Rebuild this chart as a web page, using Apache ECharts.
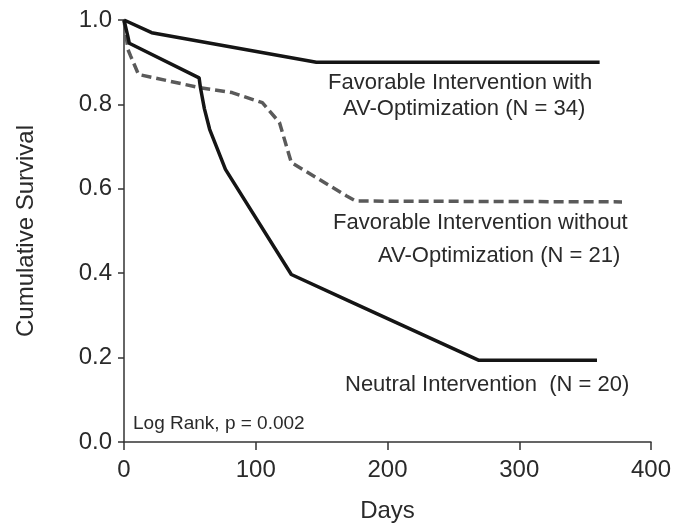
<!DOCTYPE html>
<html>
<head>
<meta charset="utf-8">
<script src="https://cdn.jsdelivr.net/npm/echarts@6/dist/echarts.min.js"></script>
<style>html,body{margin:0;padding:0;background:#fff}#c{width:675px;height:528px}</style>
</head>
<body>
<div id="c"></div>
<script>
// Data (days, cumulative survival)
var withAVDays = [0, 21, 146, 361];
var withAVSurv = [1.0, 0.970, 0.900, 0.900];

var withoutAVDays = [0, 3, 5, 11, 57, 82, 105, 118, 127, 169, 176, 378];
var withoutAVSurv = [1.0, 0.93, 0.915, 0.871, 0.840, 0.828, 0.804, 0.757, 0.662, 0.583, 0.571, 0.569];

var neutralDays = [0, 3, 4, 57, 58, 61, 65, 77, 127, 171, 269, 359];
var neutralSurv = [1.0, 0.96, 0.945, 0.863, 0.84, 0.79, 0.741, 0.646, 0.397, 0.334, 0.194, 0.194];

var xTicks = [0, 100, 200, 300, 400];
var yTicks = [0.0, 0.2, 0.4, 0.6, 0.8, 1.0];

var labelWith = ['Favorable Intervention with', 'AV-Optimization (N = 34)'];
var labelWithout = ['Favorable Intervention without', 'AV-Optimization (N = 21)'];
var labelNeutral = 'Neutral Intervention  (N = 20)';
var labelLogRank = 'Log Rank, p = 0.002';

function pairs(xs, ys) { return xs.map(function (x, i) { return [x, ys[i]]; }); }

var FONT = 'Liberation Sans, Arial, sans-serif';
var TXT = '#2a2a2a';
var chart = echarts.init(document.getElementById('c'), null, {renderer: 'canvas'});

var axisLine = {show: true, lineStyle: {color: '#333', width: 1.5}};
chart.setOption({
  animation: false,
  backgroundColor: '#fff',
  grid: {left: 124, right: 24, top: 20, bottom: 85, containLabel: false},
  xAxis: {
    type: 'value', min: xTicks[0], max: xTicks[xTicks.length - 1], interval: 100,
    axisLine: axisLine,
    axisTick: {show: true, length: 8, lineStyle: {color: '#333', width: 1.5}},
    axisLabel: {fontFamily: FONT, fontSize: 24, color: TXT, margin: 16},
    splitLine: {show: false},
    name: 'Days', nameLocation: 'middle', nameGap: 57,
    nameTextStyle: {fontFamily: FONT, fontSize: 24, color: TXT}
  },
  yAxis: {
    type: 'value', min: yTicks[0], max: yTicks[yTicks.length - 1], interval: 0.2,
    axisLine: axisLine,
    axisTick: {show: true, length: 6, lineStyle: {color: '#333', width: 1.5}},
    axisLabel: {fontFamily: FONT, fontSize: 24, color: TXT, margin: 12,
      formatter: function (v) { return v.toFixed(1); }},
    splitLine: {show: false},
    name: 'Cumulative Survival', nameLocation: 'middle', nameGap: 86, nameMoveOverlap: false,
    nameTextStyle: {fontFamily: FONT, fontSize: 24, color: TXT}
  },
  series: [
    {type: 'line', data: pairs(withAVDays, withAVSurv), showSymbol: false, symbol: 'none',
     lineStyle: {color: '#151515', width: 3.5}, z: 3},
    {type: 'line', data: pairs(withoutAVDays, withoutAVSurv), showSymbol: false, symbol: 'none',
     lineStyle: {color: '#5a5a5a', width: 3.5, type: [10, 5]}, z: 2},
    {type: 'line', data: pairs(neutralDays, neutralSurv), showSymbol: false, symbol: 'none',
     lineStyle: {color: '#151515', width: 3.5}, z: 3}
  ],
  graphic: [
    {type: 'text', left: 328, top: 72, style: {text: labelWith[0], font: '22px ' + FONT, fill: TXT}},
    {type: 'text', left: 343, top: 98, style: {text: labelWith[1], font: '22px ' + FONT, fill: TXT}},
    {type: 'text', left: 333, top: 212, style: {text: labelWithout[0], font: '22px ' + FONT, fill: TXT}},
    {type: 'text', left: 378, top: 245, style: {text: labelWithout[1], font: '22px ' + FONT, fill: TXT}},
    {type: 'text', left: 345, top: 374, style: {text: labelNeutral, font: '22px ' + FONT, fill: TXT}},
    {type: 'text', left: 133, top: 414, style: {text: labelLogRank, font: '19px ' + FONT, fill: TXT}}
  ]
});
</script>
</body>
</html>
